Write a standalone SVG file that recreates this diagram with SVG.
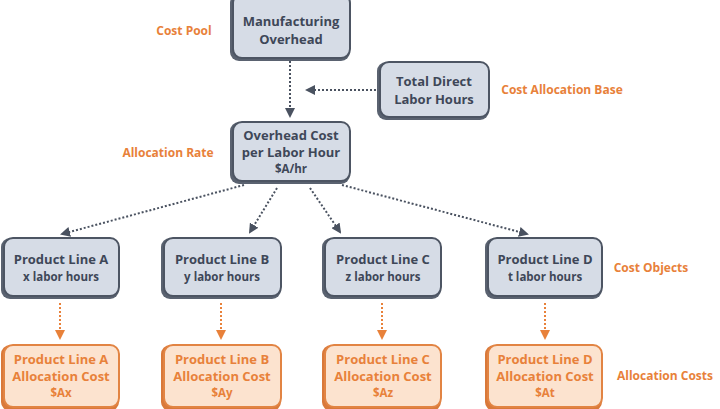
<svg xmlns="http://www.w3.org/2000/svg" width="720" height="409" viewBox="0 0 720 409">
<defs>
<marker id="ag" markerWidth="5" markerHeight="5" refX="4" refY="2.5" orient="auto"><path d="M0,0 L5,2.5 L0,5 z" fill="#4a5260"/></marker>
<marker id="ao" markerWidth="5" markerHeight="5" refX="4" refY="2.5" orient="auto"><path d="M0,0 L5,2.5 L0,5 z" fill="#e8813a"/></marker>
</defs>
<style>
.g{fill:#d6dce6;stroke:#4d5563;stroke-width:2}
.o{fill:#fce3cf;stroke:#e28443;stroke-width:2}
.gs{fill:#5a6270}
.os{fill:#d9793a}
text{font-family:"Open Sans","Liberation Sans",sans-serif;font-weight:bold;text-anchor:middle}
.gt{fill:#3e4758;font-size:13px}
.gt2{fill:#3e4758;font-size:11.5px}
.ot{fill:#e8813a;font-size:13px}
.ot2{fill:#e8813a;font-size:11.5px}
.l{fill:#e8813a;font-size:12px}
.c{fill:none;stroke:#4a5260;stroke-width:2;stroke-dasharray:2 2}
.co{fill:none;stroke:#e8813a;stroke-width:2;stroke-dasharray:2 2}
</style>
<rect width="720" height="409" fill="#fff"/>
<g id="connectors">
<line class="c" x1="290" y1="61" x2="290" y2="116" marker-end="url(#ag)"/>
<line class="c" x1="376" y1="90" x2="307" y2="90" marker-end="url(#ag)"/>
<line class="c" x1="244" y1="185" x2="62" y2="234" marker-end="url(#ag)"/>
<line class="c" x1="277" y1="188" x2="250" y2="232" marker-end="url(#ag)"/>
<line class="c" x1="310" y1="188" x2="340" y2="232" marker-end="url(#ag)"/>
<line class="c" x1="342" y1="185" x2="527" y2="234" marker-end="url(#ag)"/>
<line class="co" x1="60" y1="303" x2="60" y2="338" marker-end="url(#ao)"/>
<line class="co" x1="221" y1="303" x2="221" y2="338" marker-end="url(#ao)"/>
<line class="co" x1="382" y1="303" x2="382" y2="338" marker-end="url(#ao)"/>
<line class="co" x1="545" y1="303" x2="545" y2="338" marker-end="url(#ao)"/>
</g>
<g id="labels">
<text class="l" x="184" y="35">Cost Pool</text>
<text class="l" x="168" y="157">Allocation Rate</text>
<text class="l" x="562" y="94">Cost Allocation Base</text>
<text class="l" x="651" y="272">Cost Objects</text>
<text class="l" x="665" y="380">Allocation Costs</text>
</g>
<g id="n-mo"><rect class="gs" x="230" y="-6" width="120" height="67" rx="9"/><rect class="g" x="233" y="-6" width="117" height="64" rx="9"/>
<text class="gt" x="291" y="26">Manufacturing</text><text class="gt" x="291" y="44">Overhead</text></g>
<g id="n-tdlh"><rect class="gs" x="377" y="62" width="112" height="58" rx="9"/><rect class="g" x="380" y="62" width="109" height="55" rx="9"/>
<text class="gt" x="434" y="86">Total Direct</text><text class="gt" x="434" y="104">Labor Hours</text></g>
<g id="n-rate"><rect class="gs" x="230" y="122" width="120" height="62" rx="9"/><rect class="g" x="233" y="122" width="117" height="59" rx="9"/>
<text class="gt" x="291" y="140">Overhead Cost</text><text class="gt" x="291" y="157">per Labor Hour</text><text class="gt2" x="291" y="173">$A/hr</text></g>
<g id="n-a"><rect class="gs" x="1" y="238" width="118" height="61" rx="9"/><rect class="g" x="4" y="238" width="115" height="58" rx="9"/>
<text class="gt" x="61" y="264">Product Line A</text><text class="gt2" x="61" y="281">x labor hours</text></g>
<g id="n-b"><rect class="gs" x="161" y="238" width="120" height="61" rx="9"/><rect class="g" x="164" y="238" width="117" height="58" rx="9"/>
<text class="gt" x="222" y="264">Product Line B</text><text class="gt2" x="222" y="281">y labor hours</text></g>
<g id="n-c"><rect class="gs" x="322" y="238" width="119" height="61" rx="9"/><rect class="g" x="325" y="238" width="116" height="58" rx="9"/>
<text class="gt" x="383" y="264">Product Line C</text><text class="gt2" x="383" y="281">z labor hours</text></g>
<g id="n-d"><rect class="gs" x="485" y="238" width="117" height="61" rx="9"/><rect class="g" x="488" y="238" width="114" height="58" rx="9"/>
<text class="gt" x="545" y="264">Product Line D</text><text class="gt2" x="545" y="281">t labor hours</text></g>
<g id="n-ac-a"><rect class="os" x="1" y="345" width="118" height="66" rx="9"/><rect class="o" x="4" y="345" width="115" height="62" rx="9"/>
<text class="ot" x="61" y="364">Product Line A</text><text class="ot" x="61" y="381">Allocation Cost</text><text class="ot2" x="61" y="397">$Ax</text></g>
<g id="n-ac-b"><rect class="os" x="161" y="345" width="120" height="66" rx="9"/><rect class="o" x="164" y="345" width="117" height="62" rx="9"/>
<text class="ot" x="222" y="364">Product Line B</text><text class="ot" x="222" y="381">Allocation Cost</text><text class="ot2" x="222" y="397">$Ay</text></g>
<g id="n-ac-c"><rect class="os" x="322" y="345" width="119" height="66" rx="9"/><rect class="o" x="325" y="345" width="116" height="62" rx="9"/>
<text class="ot" x="383" y="364">Product Line C</text><text class="ot" x="383" y="381">Allocation Cost</text><text class="ot2" x="383" y="397">$Az</text></g>
<g id="n-ac-d"><rect class="os" x="485" y="345" width="117" height="66" rx="9"/><rect class="o" x="488" y="345" width="114" height="62" rx="9"/>
<text class="ot" x="545" y="364">Product Line D</text><text class="ot" x="545" y="381">Allocation Cost</text><text class="ot2" x="545" y="397">$At</text></g>
</svg>
